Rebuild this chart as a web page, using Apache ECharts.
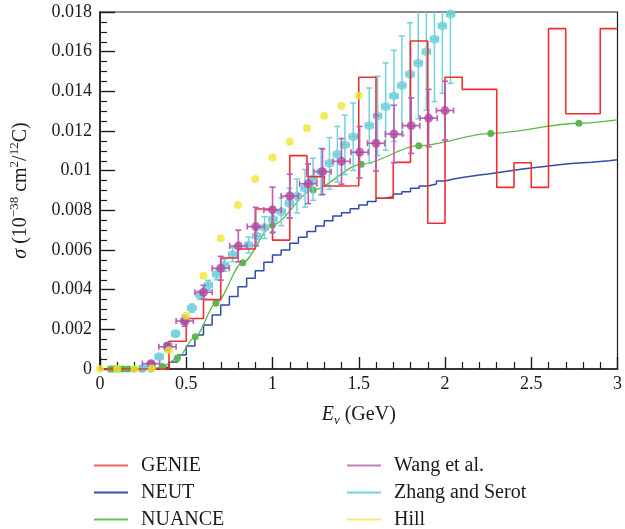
<!DOCTYPE html>
<html>
<head>
<meta charset="utf-8">
<script src="https://cdn.jsdelivr.net/npm/echarts@6/dist/echarts.min.js"></script>
<style>
  html, body { margin: 0; padding: 0; background: #fff; }
  #chart { width: 625px; height: 529px; }
</style>
</head>
<body>
<div id="chart"></div>
<script>
// Neutrino-carbon cross section vs neutrino energy (sigma in 1e-38 cm^2 per 12C)

// GENIE histogram: bin lower edges (GeV) plus the closing edge, and bin contents
const genieE = [0.0, 0.1, 0.2, 0.3, 0.4, 0.5, 0.6, 0.7, 0.8, 0.9, 1.0, 1.1, 1.2, 1.3, 1.4, 1.5,
                1.6, 1.7, 1.8, 1.9, 2.0, 2.1, 2.2, 2.3, 2.4, 2.5, 2.6, 2.7, 2.8, 2.9, 3.0];
const genieSigma = [0, 0, 0, 0, 0.00140, 0.00255, 0.00350, 0.00560, 0.00605, 0.00807, 0.00650,
                    0.01076, 0.00970, 0.00923, 0.00924, 0.01471, 0.00861, 0.01042, 0.01654,
                    0.00735, 0.01471, 0.01410, 0.01410, 0.00916, 0.01040, 0.00916, 0.01716,
                    0.01287, 0.01287, 0.01716, 0.01716];

// NEUT histogram: 0.05 GeV bins (lower edges plus closing edge)
const neutE = [0.00, 0.05, 0.10, 0.15, 0.20, 0.25, 0.30, 0.35, 0.40, 0.45, 0.50, 0.55, 0.60, 0.65,
               0.70, 0.75, 0.80, 0.85, 0.90, 0.95, 1.00, 1.05, 1.10, 1.15, 1.20, 1.25, 1.30, 1.35,
               1.40, 1.45, 1.50, 1.55, 1.60, 1.65, 1.70, 1.75, 1.80, 1.85, 1.90, 1.95, 2.00, 2.05,
               2.10, 2.15, 2.20, 2.25, 2.30, 2.35, 2.40, 2.45, 2.50, 2.55, 2.60, 2.65, 2.70, 2.75,
               2.80, 2.85, 2.90, 2.95, 3.00];
const neutSigma = [0, 0, 0, 0, 0, 0, 0.00002, 0.00010, 0.00035, 0.00071, 0.00116, 0.00171,
                   0.00222, 0.00272, 0.00323, 0.00365, 0.00415, 0.00457, 0.00495, 0.00538,
                   0.00575, 0.00600, 0.00634, 0.00664, 0.00693, 0.00721, 0.00748, 0.00772,
                   0.00788, 0.00808, 0.00827, 0.00844, 0.00861, 0.00869, 0.00882, 0.00894,
                   0.00911, 0.00923, 0.00933, 0.00948, 0.00958, 0.00965, 0.00972, 0.00978,
                   0.00983, 0.00990, 0.00996, 0.01002, 0.01008, 0.01013, 0.01018, 0.01024,
                   0.01029, 0.01033, 0.01037, 0.01040, 0.01042, 0.01046, 0.01050, 0.01055,
                   0.01055];

// NUANCE curve: marked energies; the last point closes the curve at the frame
const nuanceE = [0.060, 0.074, 0.090, 0.110, 0.134, 0.163, 0.199, 0.243, 0.297, 0.362, 0.448,
                 0.552, 0.672, 0.827, 1.000, 1.235, 1.514, 1.848, 2.265, 2.776, 3.000];
const nuanceSigma = [0, 0, 0, 0, 0, 0, 0, 0, 0, 0.00012, 0.00054, 0.00163, 0.00331, 0.00536,
                     0.00726, 0.00903, 0.01032, 0.01126, 0.01188, 0.01239, 0.01256];

// Wang et al.: central values, vertical errors, energy half-width
const wangE = [0.296, 0.391, 0.491, 0.600, 0.700, 0.802, 0.903, 1.000, 1.100, 1.207, 1.290,
               1.400, 1.505, 1.600, 1.704, 1.804, 1.905, 2.000];
const wangSigma = [0.00027, 0.00112, 0.00242, 0.00387, 0.00508, 0.00620, 0.00718, 0.00802,
                   0.00872, 0.00934, 0.00995, 0.01047, 0.01093, 0.01138, 0.01185, 0.01227,
                   0.01265, 0.01303];
const wangErr = [0.00010, 0.00020, 0.00027, 0.00035, 0.00060, 0.00080, 0.00097, 0.00115,
                 0.00110, 0.00100, 0.00115, 0.00115, 0.00130, 0.00140, 0.00145, 0.00140,
                 0.00145, 0.00148];
const wangEHalf = 0.05;

// Zhang and Serot
const zhangE = [0.250, 0.297, 0.343, 0.394, 0.438, 0.491, 0.533, 0.581, 0.628, 0.676, 0.721,
                0.769, 0.861, 0.908, 0.954, 1.002, 1.051, 1.098, 1.142, 1.189, 1.235, 1.282,
                1.330, 1.376, 1.420, 1.468, 1.561, 1.609, 1.656, 1.704, 1.750, 1.797, 1.845,
                1.892, 1.939, 1.985, 2.032];
const zhangSigma = [0.00005, 0.00020, 0.00062, 0.00117, 0.00178, 0.00242, 0.00307, 0.00373,
                    0.00422, 0.00478, 0.00524, 0.00577, 0.00625, 0.00671, 0.00713, 0.00755,
                    0.00793, 0.00836, 0.00872, 0.00911, 0.00957, 0.00995, 0.01037, 0.01083,
                    0.01130, 0.01171, 0.01227, 0.01276, 0.01323, 0.01377, 0.01429, 0.01486,
                    0.01542, 0.01600, 0.01663, 0.01730, 0.01790];
const zhangErr = [0.00005, 0.00008, 0.00010, 0.00012, 0.00014, 0.00017, 0.00020, 0.00022,
                  0.00025, 0.00028, 0.00031, 0.00035, 0.00040, 0.00046, 0.00055, 0.00063,
                  0.00070, 0.00075, 0.00085, 0.00095, 0.00106, 0.00118, 0.00130, 0.00140,
                  0.00150, 0.00170, 0.00190, 0.00200, 0.00220, 0.00230, 0.00250, 0.00260,
                  0.00280, 0.00295, 0.00315, 0.00340, 0.00350];
const zhangEHalf = 0.023;

// Hill
const hillE = [0.0, 0.1, 0.2, 0.3, 0.4, 0.5, 0.6, 0.7, 0.8, 0.9, 1.0, 1.1, 1.2, 1.3, 1.4, 1.5];
const hillSigma = [0, 0, 0, 0.00003, 0.00094, 0.00268, 0.00470, 0.00659, 0.00827, 0.00958,
                   0.01066, 0.01146, 0.01214, 0.01277, 0.01326, 0.01378];

// Axis ticks
const xTicks = { min: 0, max: 3, interval: 0.5 };
const yTicks = { min: 0, max: 0.018, interval: 0.002 };

const FONT = '"Liberation Serif", "DejaVu Serif", serif';
const INK = '#1a1a1a';
const COLORS = {
  genie: '#ee2f2f', neut: '#2e4ea6', nuance: '#5cb849',
  wang: '#b0479f', wangBar: '#bd5cb0', zhang: '#6dcfdc', zhangBar: '#74d0dc', hill: '#ede636'
};

const zip = (xs, ys) => xs.map((x, i) => [x, ys[i]]);

function errorData(xs, ys, errs, half) {
  return xs.map((x, i) => [x, ys[i], ys[i] - errs[i], ys[i] + errs[i], x - half, x + half]);
}

function errorBars(color, width, cap) {
  return function (params, api) {
    const x = api.value(0), y = api.value(1);
    const c = api.coord([x, y]);
    const top = api.coord([x, api.value(3)]);
    const bot = api.coord([x, api.value(2)]);
    const left = api.coord([api.value(4), y]);
    const right = api.coord([api.value(5), y]);
    const st = { stroke: color, lineWidth: width };
    return {
      type: 'group',
      children: [
        { type: 'line', shape: { x1: c[0], y1: top[1], x2: c[0], y2: bot[1] }, style: st },
        { type: 'line', shape: { x1: c[0] - cap, y1: top[1], x2: c[0] + cap, y2: top[1] }, style: st },
        { type: 'line', shape: { x1: c[0] - cap, y1: bot[1], x2: c[0] + cap, y2: bot[1] }, style: st },
        { type: 'line', shape: { x1: left[0], y1: c[1], x2: right[0], y2: c[1] }, style: st },
        { type: 'line', shape: { x1: left[0], y1: c[1] - cap, x2: left[0], y2: c[1] + cap }, style: st },
        { type: 'line', shape: { x1: right[0], y1: c[1] - cap, x2: right[0], y2: c[1] + cap }, style: st }
      ]
    };
  };
}

const nuanceData = zip(nuanceE, nuanceSigma).map((p, i) =>
  i === nuanceE.length - 1 ? { value: p, symbol: 'none' } : p);

const legendCommon = {
  orient: 'vertical',
  icon: 'rect',
  itemWidth: 34,
  itemHeight: 2,
  itemGap: 6,
  padding: 0,
  height: 100,
  selectedMode: false,
  textStyle: { fontFamily: FONT, fontSize: 20, color: INK, lineHeight: 21, padding: [0, 0, 0, 8] }
};

const chart = echarts.init(document.getElementById('chart'), null, { renderer: 'canvas' });
chart.setOption({
  animation: false,
  backgroundColor: '#fff',
  grid: { left: 93, right: 5, top: 12, bottom: 160, show: true, borderColor: INK, borderWidth: 1.2 },
  legend: [
    Object.assign({}, legendCommon, {
      left: 94, top: 455,
      data: [
        { name: 'GENIE', itemStyle: { color: '#f06262' } },
        { name: 'NEUT', itemStyle: { color: '#3553b0' } },
        { name: 'NUANCE', itemStyle: { color: '#6abf5a' } }
      ]
    }),
    Object.assign({}, legendCommon, {
      left: 347, top: 455,
      data: [
        { name: 'Wang et al.', itemStyle: { color: '#c67cbf' } },
        { name: 'Zhang and Serot', itemStyle: { color: '#6fd3de' } },
        { name: 'Hill', itemStyle: { color: '#efe54a' } }
      ]
    })
  ],
  xAxis: {
    type: 'value',
    min: xTicks.min, max: xTicks.max, interval: xTicks.interval,
    name: '{i|E}{sub|ν}{n| (GeV)}',
    nameLocation: 'middle',
    nameGap: 34,
    nameTextStyle: {
      rich: {
        i: { fontFamily: FONT, fontSize: 20, fontStyle: 'italic', color: INK, lineHeight: 24 },
        sub: { fontFamily: FONT, fontSize: 13, fontStyle: 'italic', color: INK, verticalAlign: 'bottom', lineHeight: 24 },
        n: { fontFamily: FONT, fontSize: 20, color: INK, lineHeight: 24 }
      }
    },
    axisLine: { onZero: false, lineStyle: { color: INK, width: 1.6 } },
    axisTick: { inside: true, length: 12, lineStyle: { color: INK, width: 1.4 } },
    minorTick: { show: true, splitNumber: 5, length: 7, lineStyle: { color: INK, width: 1.2 } },
    axisLabel: { fontFamily: FONT, fontSize: 18, color: INK, margin: 6 },
    splitLine: { show: false }
  },
  yAxis: {
    type: 'value',
    min: yTicks.min, max: yTicks.max, interval: yTicks.interval,
    name: '{i|σ}{n| (10}{s|−38}{n| cm}{s|2}{n|/}{s|12}{n|C)}',
    nameLocation: 'middle',
    nameRotate: 90,
    nameGap: 66,
    nameTextStyle: {
      rich: {
        i: { fontFamily: FONT, fontSize: 20, fontStyle: 'italic', color: INK, lineHeight: 26 },
        n: { fontFamily: FONT, fontSize: 20, color: INK, lineHeight: 26 },
        s: { fontFamily: FONT, fontSize: 13, color: INK, verticalAlign: 'top', lineHeight: 26 }
      }
    },
    axisLine: { onZero: false, lineStyle: { color: INK, width: 1.6 } },
    axisTick: { inside: true, length: 15, lineStyle: { color: INK, width: 1.4 } },
    minorTick: { show: true, splitNumber: 4, length: 7, lineStyle: { color: INK, width: 1.2 } },
    axisLabel: { fontFamily: FONT, fontSize: 18, color: INK, margin: 8 },
    splitLine: { show: false }
  },
  series: [
    {
      name: 'NEUT', type: 'line', step: 'end', symbol: 'none', z: 2,
      data: zip(neutE, neutSigma),
      lineStyle: { color: COLORS.neut, width: 1.5 }, itemStyle: { color: COLORS.neut }
    },
    {
      name: 'NUANCE', type: 'line', smooth: 0.3, smoothMonotone: 'x', z: 3,
      symbol: 'circle', symbolSize: 7,
      data: nuanceData,
      lineStyle: { color: COLORS.nuance, width: 1.3 }, itemStyle: { color: COLORS.nuance }
    },
    {
      name: 'Zhang and Serot', type: 'custom', z: 4, clip: true,
      renderItem: errorBars(COLORS.zhangBar, 1.5, 3),
      data: errorData(zhangE, zhangSigma, zhangErr, zhangEHalf),
      itemStyle: { color: COLORS.zhang }
    },
    {
      name: 'Zhang and Serot', type: 'scatter', z: 5, symbol: 'circle', symbolSize: 9,
      data: zip(zhangE, zhangSigma), itemStyle: { color: COLORS.zhang }
    },
    {
      name: 'GENIE', type: 'line', step: 'end', symbol: 'none', z: 6,
      data: zip(genieE, genieSigma),
      lineStyle: { color: COLORS.genie, width: 1.6 }, itemStyle: { color: COLORS.genie }
    },
    {
      name: 'Wang et al.', type: 'custom', z: 7, clip: true,
      renderItem: errorBars(COLORS.wangBar, 1.6, 3),
      data: errorData(wangE, wangSigma, wangErr, wangEHalf),
      itemStyle: { color: COLORS.wang }
    },
    {
      name: 'Wang et al.', type: 'scatter', z: 8, symbol: 'circle', symbolSize: 9,
      data: zip(wangE, wangSigma), itemStyle: { color: COLORS.wang }
    },
    {
      name: 'Hill', type: 'scatter', z: 9, symbol: 'circle', symbolSize: 8,
      data: zip(hillE, hillSigma), itemStyle: { color: COLORS.hill }
    }
  ]
});
</script>
</body>
</html>
